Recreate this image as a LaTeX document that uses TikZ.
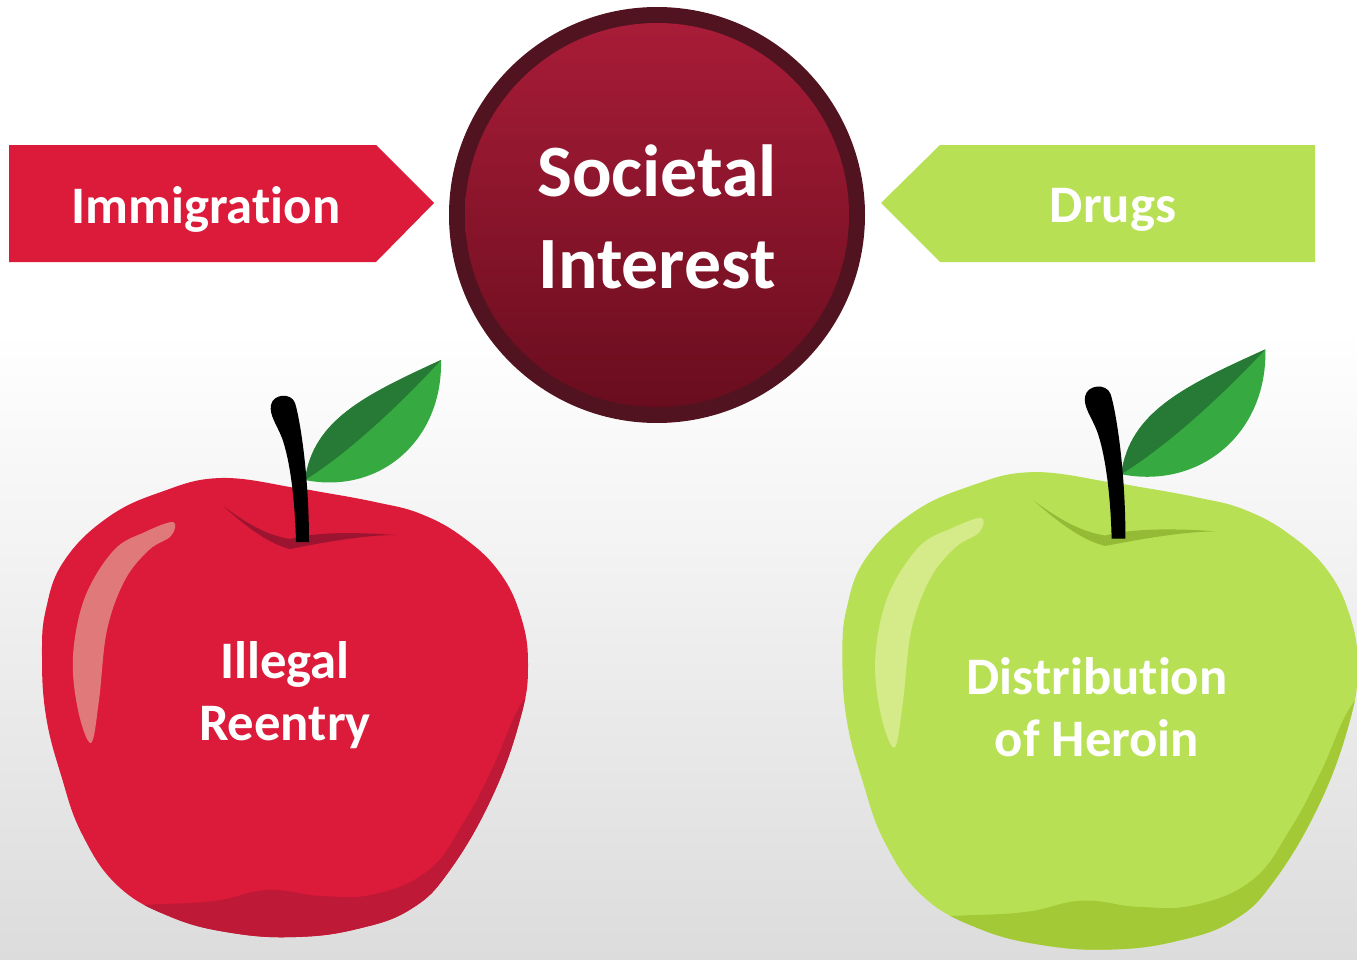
\documentclass[tikz,border=0pt]{standalone}
\usepackage{fontspec}
\setmainfont{Carlito}[Ligatures={NoCommon,NoContextual,NoRare},Contextuals={NoAlternate}]
\definecolor{appred}{HTML}{DC1A3A}
\definecolor{appredshade}{HTML}{BE1936}
\definecolor{appredhi}{HTML}{E07A7A}
\definecolor{appreddimple}{HTML}{9C1430}
\definecolor{appgreen}{HTML}{B8E055}
\definecolor{appgreenshade}{HTML}{A3CA36}
\definecolor{appgreenhi}{HTML}{D5EA88}
\definecolor{appgreendimple}{HTML}{94BA36}
\definecolor{leafdark}{HTML}{277A36}
\definecolor{leaflight}{HTML}{36A940}
\definecolor{ringdark}{HTML}{521320}
\definecolor{ringtop}{HTML}{A81C38}
\definecolor{ringbot}{HTML}{690D1E}
\definecolor{bgbot}{HTML}{DCDCDC}
\newcommand{\appleshape}[1]{\path[#1] plot[smooth cycle,tension=0.7] coordinates {(11,-212) (-64,-222) (-124,-208) (-178,-182) (-221,-139) (-239,-91) (-243,-44) (-239,16) (-224,75) (-203,134) (-167,186) (-114,217) (-53,233) (11,237) (72,229) (126,209) (165,170) (208,95) (236,16) (243,-36) (236,-83) (215,-127) (179,-162) (136,-186) (90,-198) (36,-208)};}
\newcommand{\leafshape}{(20,-220) .. controls (28,-280) and (80,-305) .. (156,-340) .. controls (158,-260) and (95,-205) .. (20,-220) -- cycle}
\newcommand{\drawapple}[4]{%
  \appleshape{fill=#1}
  \begin{scope}
    \appleshape{clip}
    \fill[#2] plot[smooth,tension=0.7] coordinates {(262,-20) (236,4) (208,67) (179,122) (144,170) (90,194) (36,196) (-17,190) (-71,201) (-142,205) (-262,212)} -- (-262,300) -- (262,300) -- cycle;
  \end{scope}
  \fill[#3] plot[smooth cycle,tension=0.6] coordinates {(-112,-178) (-140,-168) (-171,-150) (-200,-103) (-212,-44) (-207,10) (-194,43) (-186,0) (-178,-70) (-160,-120) (-136,-150) (-114,-164)};
  \fill[#4] (-62,-194) .. controls (-35,-170) and (-15,-156) .. (5,-151) .. controls (40,-158) and (80,-165) .. (110,-165) .. controls (70,-168) and (30,-168) .. (5,-161) .. controls (-20,-165) and (-40,-178) .. (-62,-194) -- cycle;
  \fill[leaflight] \leafshape;
  \begin{scope}
    \clip \leafshape;
    \fill[leafdark] (20,-220) .. controls (60,-245) and (110,-290) .. (156,-340) -- (170,-420) -- (-20,-420) -- (-20,-220) -- cycle;
  \end{scope}
  \fill[black] (11,-158) .. controls (10,-200) and (5,-240) .. (-3,-262) .. controls (-8,-275) and (-16,-285) .. (-14,-295) .. controls (-12,-306) and (6,-308) .. (10,-297) .. controls (14,-285) and (24,-230) .. (24,-158) -- cycle;
}
\tikzset{
  lbl/.style={text=white,font=\bfseries,inner sep=0pt,align=center},
}
\begin{document}
\begin{tikzpicture}[x=0.02cm,y=-0.02cm]
\useasboundingbox (0,0) rectangle (1357,960);
% background
\fill[white] (0,0) rectangle (1357,960);
\shade[top color=white,bottom color=bgbot] (0,330) rectangle (1357,960);
% arrows
\fill[appred] (9,145) -- (376,145) -- (434,203) -- (376,262) -- (9,262) -- cycle;
\fill[appgreen] (1315,145) -- (940,145) -- (881,203) -- (940,262) -- (1315,262) -- cycle;
\node[lbl,font=\bfseries\fontsize{30}{36}\selectfont] (immig) at (206,209) {Immigrat\kern0pt ion};
\node[lbl,font=\bfseries\fontsize{30}{36}\selectfont] (drugs) at (1113,210) {Drugs};
% central circle
\fill[ringdark] (657,215) circle[radius=208];
\shade[top color=ringtop,bottom color=ringbot] (657,215) circle[radius=192];
\node[lbl,font=\bfseries\fontsize{42}{52}\selectfont] (soc) at (657,217) {Societal\\Interest};
% red apple
\begin{scope}[shift={(285,700)}]
  \drawapple{appred}{appredshade}{appredhi}{appreddimple}
\end{scope}
\node[lbl,font=\bfseries\fontsize{30}{35}\selectfont] (illegal) at (285,695) {Illegal\\Reentry};
% green apple
\begin{scope}[shift={(1100,703)},xscale=1.06,yscale=1.04]
  \drawapple{appgreen}{appgreenshade}{appgreenhi}{appgreendimple}
\end{scope}
\node[lbl,font=\bfseries\fontsize{30}{35}\selectfont] (distr) at (1097,707) {Distribut\kern0pt ion\\of Heroin};
\end{tikzpicture}
\end{document}
